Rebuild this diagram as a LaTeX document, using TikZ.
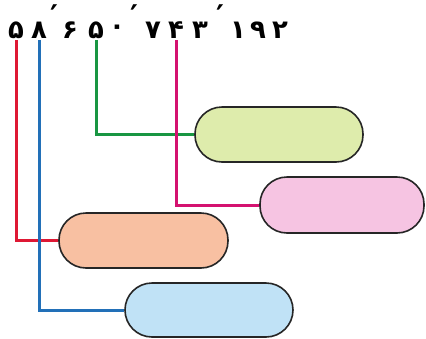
\documentclass[tikz,border=0pt]{standalone}
\usepackage{fontspec}
\newfontfamily\digitfont[Script=Arabic]{DejaVu Sans}
\usetikzlibrary{positioning}
\definecolor{lred}{RGB}{222,24,52}
\definecolor{lblue}{RGB}{34,112,184}
\definecolor{lgreen}{RGB}{24,150,66}
\definecolor{lmagenta}{RGB}{212,18,112}
\definecolor{fgreen}{RGB}{222,236,172}
\definecolor{fpink}{RGB}{246,196,226}
\definecolor{forange}{RGB}{248,192,162}
\definecolor{fblue}{RGB}{192,226,246}

\begin{document}
\begin{tikzpicture}[x=1bp,y=-1bp]
	\tikzstyle{digit}=[font=\digitfont\bfseries\fontsize{26}{26}\selectfont, inner sep=1.5bp]
	\tikzstyle{tick}=[font=\digitfont\bfseries\fontsize{30}{30}\selectfont, inner sep=0pt]
	\tikzstyle{pill}=[draw=black!85, line width=1.6bp, rounded corners=27bp, minimum width=168bp, minimum height=55bp]
	\tikzstyle{link}=[line width=3bp]
	\useasboundingbox (0,0) rectangle (426,339);
	% the number
	\node [digit] (d1) at (16,30) {۵};
	\node [digit] (d2) at (39,30) {۸};
	\node [tick] (t1) at (54,15.5) {′};
	\node [digit] (d3) at (70,30) {۶};
	\node [digit] (d4) at (96,30) {۵};
	\node [digit] (d5) at (117,30) {۰};
	\node [tick] (t2) at (134,15.5) {′};
	\node [digit] (d6) at (153,30) {۷};
	\node [digit] (d7) at (176,30) {۴};
	\node [digit] (d8) at (200,30) {۳};
	\node [tick] (t3) at (220,15.5) {′};
	\node [digit] (d9) at (238,30) {۱};
	\node [digit] (d10) at (258,30) {۹};
	\node [digit] (d11) at (280,30) {۲};
	% the boxes
	\node [pill, fill=fgreen] (bgreen) at (279,134.5) {};
	\node [pill, fill=fpink, minimum width=164bp, minimum height=56bp] (bpink) at (342,205) {};
	\node [pill, fill=forange, minimum width=169bp] (borange) at (143.5,240.5) {};
	\node [pill, fill=fblue, minimum height=54bp] (bblue) at (209,310) {};
	% the links
	\draw [link, lred] (d1.south) |- (borange.west);
	\draw [link, lblue] (d2.south) |- (bblue.west);
	\draw [link, lgreen] (d4.south) |- (bgreen.west);
	\draw [link, lmagenta] (d7.south) |- (bpink.west);
\end{tikzpicture}
\end{document}
